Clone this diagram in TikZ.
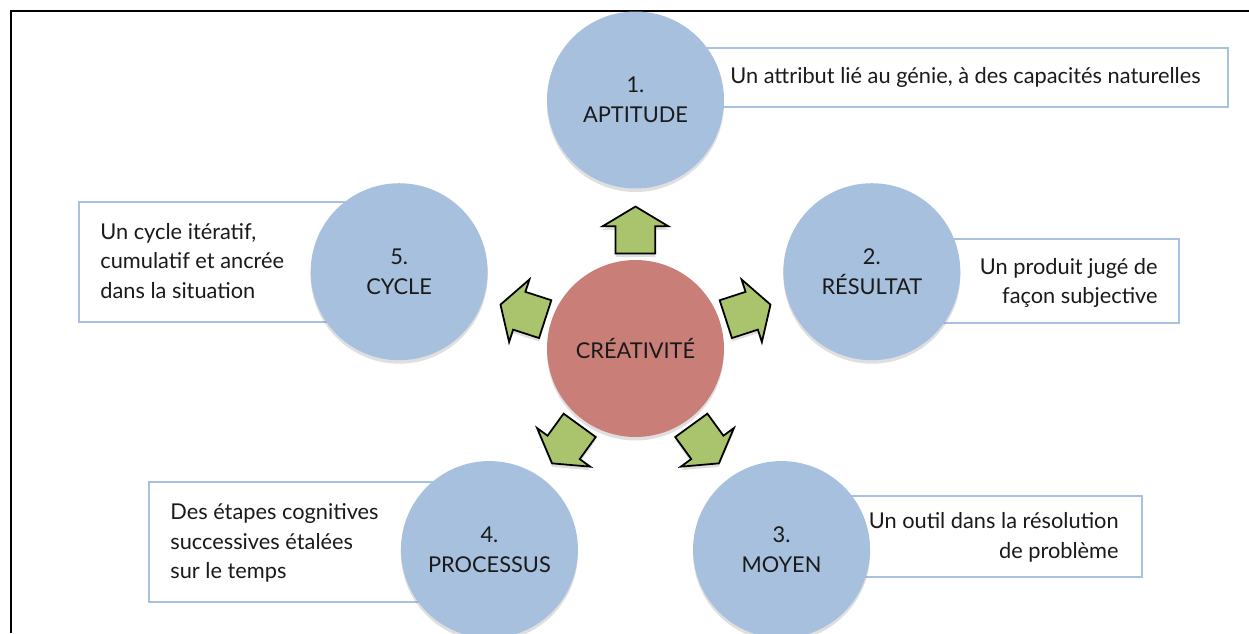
\documentclass[tikz,border=0pt]{standalone}
\usepackage{fontspec}
\setmainfont{Lato}
\usetikzlibrary{shapes,arrows,positioning,shadows}

\definecolor{circblue}{HTML}{A7C0DE}
\definecolor{circred}{HTML}{C97E78}
\definecolor{arrgreen}{HTML}{A9C46C}
\definecolor{boxblue}{HTML}{A9C1E0}
\definecolor{txtgray}{HTML}{1A1A1A}

\begin{document}
\begin{tikzpicture}[
    x=0.02cm, y=0.02cm,
    font=\fontsize{12.4}{17}\selectfont,
    idea/.style={circle, fill=circblue, minimum size=3.54cm, inner sep=0pt, align=center, text=txtgray, drop shadow={opacity=0.25, shadow xshift=0pt, shadow yshift=-2pt}},
    core/.style={idea, fill=circred},
    descbox/.style={draw=boxblue, line width=1.3pt, fill=white},
    desc/.style={text=txtgray, inner sep=0pt},
    push/.style={single arrow, draw=black, line width=1pt, fill=arrgreen, minimum height=0.94cm, inner xsep=0pt, inner ysep=0.38cm, single arrow head extend=0.26cm, single arrow tip angle=118, drop shadow={opacity=0.25, shadow xshift=0pt, shadow yshift=-2pt}}
]
\useasboundingbox (-635.5,-284.5) rectangle (613.5,348.5);

% cadre
\draw[line width=1.2pt] (-624.5,-284.5) -- (-624.5,337.5) -- (613.5,337.5);

% encadres de description
\draw[descbox] (4.5,300.5) rectangle (592.5,241.5);
\draw[descbox] (244.5,109.5) rectangle (543.5,25.5);
\draw[descbox] (154.5,-147.5) rectangle (506.5,-228.5);
\draw[descbox] (-486.5,-133.5) rectangle (-145.5,-253.5);
\draw[descbox] (-556.5,146.5) rectangle (-235.5,26.5);

\node[desc, anchor=west] (d1) at (94.5,271.5) {Un attribut lié au génie, à des capacités naturelles};
\node[desc, anchor=east, align=right] (d2) at (522.5,65.5) {Un produit jugé de\\façon subjective};
\node[desc, anchor=east, align=right] (d3) at (483.5,-189) {Un outil dans la résolution\\de problème};
\node[desc, anchor=west, align=left] (d4) at (-465.5,-194.5) {Des étapes cognitives\\successives étalées\\sur le temps};
\node[desc, anchor=west, align=left] (d5) at (-535.5,87.5) {Un cycle itératif,\\cumulatif et ancrée\\dans la situation};

% cercles
\node[core] (crea) at (0,0) {CRÉATIVITÉ};
\node[idea] (apt) at (90:248.5) {1.\\APTITUDE};
\node[idea] (res) at (18:248.5) {2.\\RÉSULTAT};
\node[idea] (moy) at (-54:248.5) {3.\\MOYEN};
\node[idea] (proc) at (-126:248.5) {4.\\PROCESSUS};
\node[idea] (cyc) at (162:248.5) {5.\\CYCLE};

% fleches
\node[push, rotate=90] (a1) at (90:112.5) {};
\node[push, rotate=18] (a2) at (18:112.5) {};
\node[push, rotate=-54] (a3) at (-54:112.5) {};
\node[push, rotate=-126] (a4) at (-126:112.5) {};
\node[push, rotate=162] (a5) at (162:112.5) {};

\end{tikzpicture}
\end{document}
